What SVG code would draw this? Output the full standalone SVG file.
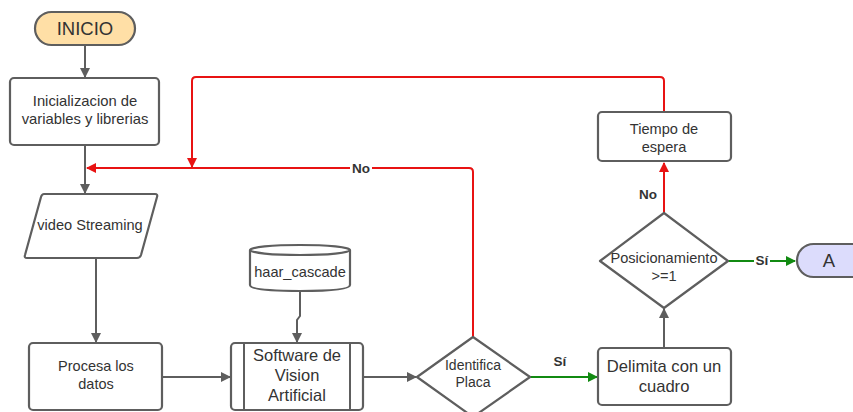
<svg xmlns="http://www.w3.org/2000/svg" width="853" height="412" viewBox="0 0 853 412">
  <defs>
    <marker id="ah-gray" viewBox="0 0 10 10" refX="9" refY="5" markerWidth="10" markerHeight="10" markerUnits="userSpaceOnUse" orient="auto">
      <path d="M0,0 L10,5 L0,10 Z" fill="#5e5e5e"/>
    </marker>
    <marker id="ah-red" viewBox="0 0 10 10" refX="9" refY="5" markerWidth="10" markerHeight="10" markerUnits="userSpaceOnUse" orient="auto">
      <path d="M0,0 L10,5 L0,10 Z" fill="#e81313"/>
    </marker>
    <marker id="ah-green" viewBox="0 0 10 10" refX="9" refY="5" markerWidth="10" markerHeight="10" markerUnits="userSpaceOnUse" orient="auto">
      <path d="M0,0 L10,5 L0,10 Z" fill="#118a11"/>
    </marker>
  </defs>
  <style>
    .shape { fill: #ffffff; stroke: #5e5e5e; stroke-width: 2.2; }
    .txt { font-family: "Liberation Sans", Arial, sans-serif; fill: #333333; text-anchor: middle; }
    .lbl { font-family: "Liberation Sans", Arial, sans-serif; fill: #333333; text-anchor: middle; font-weight: bold; font-size: 13.5px; }
    .gray { fill: none; stroke: #5e5e5e; stroke-width: 2; marker-end: url(#ah-gray); }
    .red { fill: none; stroke: #e81313; stroke-width: 2; }
    .green { fill: none; stroke: #118a11; stroke-width: 2; marker-end: url(#ah-green); }
  </style>
  <rect width="853" height="412" fill="#ffffff"/>

  <!-- connectors -->
  <g id="connectors">
    <path class="gray" d="M85,46 V77"/>
    <path class="gray" d="M85,145 V193"/>
    <path class="gray" d="M96,259 V342"/>
    <path class="gray" d="M162,377 H230"/>
    <path class="gray" d="M300,291 V316 L297,320 V342"/>
    <path class="gray" d="M363,377 H416"/>
    <path class="green" d="M530,377 H597"/>
    <path class="gray" d="M664,348 V309"/>
    <path class="green" d="M728,261 H795"/>
    <path class="red" marker-end="url(#ah-red)" d="M664,213 V163"/>
    <path class="red" marker-end="url(#ah-red)" d="M473,337 V172 Q473,168 469,168 H87"/>
    <path class="red" marker-end="url(#ah-red)" d="M664,111 V81 Q664,77 660,77 H196 Q192,77 192,81 V167"/>
    <!-- labels -->
    <rect x="350" y="160" width="22" height="16" fill="#ffffff"/>
    <text class="lbl" x="361" y="173">No</text>
    <text class="lbl" x="648" y="199">No</text>
    <text class="lbl" x="560" y="366">Sí</text>
    <rect x="754" y="253" width="16" height="15" fill="#ffffff"/>
    <text class="lbl" x="762" y="265">Sí</text>
  </g>

  <g id="inicio">
    <rect x="35" y="12" width="100" height="33" rx="16.5" fill="#ffdfa6" stroke="#5e5e5e" stroke-width="2.2"/>
    <text class="txt" x="85" y="35" font-size="18.5">INICIO</text>
  </g>

  <g id="inicializacion">
    <rect class="shape" x="10" y="78" width="149" height="67" rx="4"/>
    <text class="txt" x="85" y="106" font-size="14.8">Inicializacion de</text>
    <text class="txt" x="85" y="124" font-size="14.8">variables y librerias</text>
  </g>

  <g id="video-streaming">
    <path class="shape" d="M44,194 H155 Q158,194 157,197 L141,255 Q140,258 137,258 H27 Q24,258 25,255 L41,197 Q42,194 44,194 Z" stroke-linejoin="round"/>
    <text class="txt" x="90" y="230" font-size="14.6">video Streaming</text>
  </g>

  <g id="procesa">
    <rect class="shape" x="29" y="343" width="133" height="67" rx="4"/>
    <text class="txt" x="96" y="371" font-size="14.5">Procesa los</text>
    <text class="txt" x="96" y="389" font-size="14.5">datos</text>
  </g>

  <g id="haar-cascade">
    <path class="shape" d="M250,250 V285 Q250,291 300,291 Q350,291 350,285 V250"/>
    <ellipse class="shape" cx="300" cy="250" rx="50" ry="5"/>
    <text class="txt" x="300" y="277" font-size="14.6">haar_cascade</text>
  </g>

  <g id="software">
    <rect class="shape" x="231" y="343" width="132" height="67" rx="4"/>
    <line x1="244" y1="343" x2="244" y2="410" stroke="#5e5e5e" stroke-width="2"/>
    <line x1="350" y1="343" x2="350" y2="410" stroke="#5e5e5e" stroke-width="2"/>
    <text class="txt" x="297" y="361" font-size="16.5">Software de</text>
    <text class="txt" x="297" y="381" font-size="16.5">Vision</text>
    <text class="txt" x="297" y="401" font-size="16.5">Artificial</text>
  </g>

  <g id="identifica-placa">
    <path class="shape" d="M473,337 L530,377 L473,417 L417,377 Z" stroke-linejoin="round"/>
    <text class="txt" x="473" y="370" font-size="14">Identifica</text>
    <text class="txt" x="473" y="387" font-size="14">Placa</text>
  </g>

  <g id="delimita">
    <rect class="shape" x="598" y="348" width="133" height="57" rx="4"/>
    <text class="txt" x="664" y="372" font-size="16.6">Delimita con un</text>
    <text class="txt" x="664" y="392" font-size="16.6">cuadro</text>
  </g>

  <g id="posicionamiento">
    <path class="shape" d="M664,213 L728,261 L664,308 L600,261 Z" stroke-linejoin="round"/>
    <text class="txt" x="664" y="263" font-size="14.6">Posicionamiento</text>
    <text class="txt" x="664" y="281" font-size="14.6">&gt;=1</text>
  </g>

  <g id="tiempo-espera">
    <rect class="shape" x="598" y="112" width="133" height="49" rx="4"/>
    <text class="txt" x="664" y="134" font-size="14.6">Tiempo de</text>
    <text class="txt" x="664" y="152" font-size="14.6">espera</text>
  </g>

  <g id="conector-a">
    <rect x="797" y="244" width="80" height="33" rx="16.5" fill="#dcdcfc" stroke="#5e5e5e" stroke-width="2.2"/>
    <text class="txt" x="829" y="267" font-size="18.5">A</text>
  </g>
</svg>
